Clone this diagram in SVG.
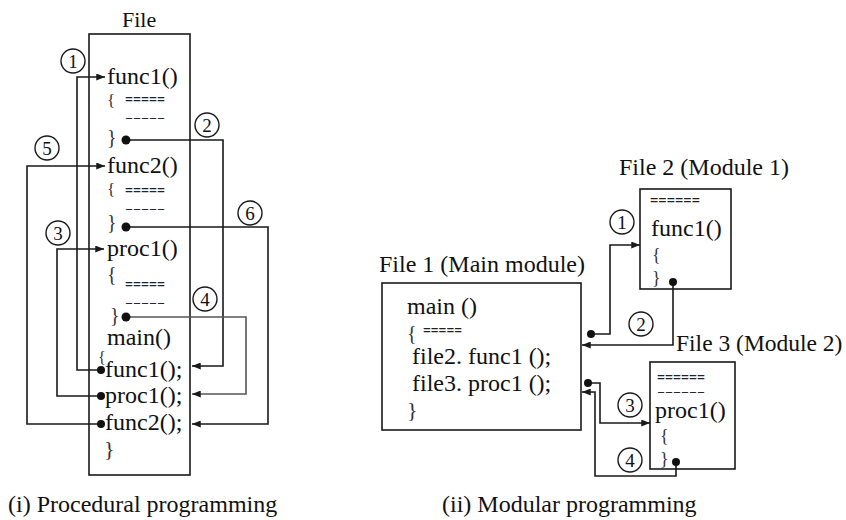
<svg xmlns="http://www.w3.org/2000/svg" width="846" height="520" viewBox="0 0 846 520">
<style>
.t{font-family:"Liberation Serif","Times New Roman",serif;font-size:24px;fill:#111}
.br{font-family:"Liberation Serif","Times New Roman",serif;font-size:20px;fill:#333}
.eq{font-family:"Liberation Serif","Times New Roman",serif;font-size:16px;fill:#222;font-weight:bold}
.dh{font-family:"Liberation Serif","Times New Roman",serif;font-size:11px;fill:#222;font-weight:bold}
.num{font-family:"Liberation Serif","Times New Roman",serif;font-size:19px;fill:#111;text-anchor:middle}
.box{fill:#fff;stroke:#1a1a1a;stroke-width:1.6}
.c{fill:none;stroke:#1a1a1a;stroke-width:1.6}
.ring{fill:none;stroke:#1a1a1a;stroke-width:1.4}
.dot{fill:#111}
</style>
<defs>
<marker id="ah" viewBox="0 0 10 8" refX="10" refY="4" markerWidth="9" markerHeight="7" markerUnits="userSpaceOnUse" orient="auto">
<path d="M0,0 L10,4 L0,8 z" fill="#1a1a1a"/>
</marker>
</defs>
<rect width="846" height="520" fill="#fff"/>

<!-- Left: procedural programming -->
<g id="file-proc">
<text class="t" x="122" y="27" style="font-size:22px">File</text>
<rect class="box" x="89" y="34" width="101" height="441"/>
<text class="t" x="107" y="84">func1()</text>
<text class="br" x="107" y="106" style="font-size:17px">{</text>
<text class="eq" x="125" y="105" textLength="40" lengthAdjust="spacingAndGlyphs">=====</text>
<text class="dh" x="125" y="121" textLength="40" lengthAdjust="spacingAndGlyphs">-----</text>
<text class="br" x="107" y="144">}</text>
<text class="t" x="107" y="173">func2()</text>
<text class="br" x="107" y="195" style="font-size:17px">{</text>
<text class="eq" x="125" y="196" textLength="40" lengthAdjust="spacingAndGlyphs">=====</text>
<text class="dh" x="125" y="212" textLength="40" lengthAdjust="spacingAndGlyphs">-----</text>
<text class="br" x="107" y="229">}</text>
<text class="t" x="107" y="256">proc1()</text>
<text class="br" x="107" y="281">{</text>
<text class="eq" x="125" y="290" textLength="40" lengthAdjust="spacingAndGlyphs">=====</text>
<text class="dh" x="125" y="306" textLength="40" lengthAdjust="spacingAndGlyphs">-----</text>
<text class="br" x="110" y="322">}</text>
<text class="t" x="107" y="345">main()</text>
<text class="br" x="98" y="363" style="font-size:16px">{</text>
<text class="t" x="105" y="377">func1();</text>
<text class="t" x="105" y="403">proc1();</text>
<text class="t" x="105" y="430">func2();</text>
<text class="br" x="104" y="456" style="font-size:22px">}</text>
</g>

<!-- Right: modular programming -->
<g id="file1-main">
<text class="t" x="379" y="272">File 1 (Main module)</text>
<rect class="box" x="382" y="283" width="199" height="147"/>
<text class="t" x="407" y="314">main ()</text>
<text class="br" x="407" y="340">{</text>
<text class="eq" x="423" y="336" textLength="39" lengthAdjust="spacingAndGlyphs">=====</text>
<text class="t" x="412" y="364">file2. func1 ();</text>
<text class="t" x="412" y="391">file3. proc1 ();</text>
<text class="br" x="407" y="417" style="font-size:22px">}</text>
</g>

<g id="file2-module1">
<text class="t" x="619" y="175">File 2 (Module 1)</text>
<rect class="box" x="640" y="189" width="91" height="100"/>
<text class="eq" x="650" y="206" textLength="50" lengthAdjust="spacingAndGlyphs">======</text>
<text class="t" x="651" y="236">func1()</text>
<text class="br" x="652" y="261" style="font-size:18px">{</text>
<text class="br" x="652" y="284" style="font-size:18px">}</text>
</g>

<g id="file3-module2">
<text class="t" x="676" y="351" style="font-size:23.5px">File 3 (Module 2)</text>
<rect class="box" x="650" y="362" width="85" height="107"/>
<text class="eq" x="657" y="383" textLength="48" lengthAdjust="spacingAndGlyphs">======</text>
<text class="dh" x="657" y="395" textLength="48" lengthAdjust="spacingAndGlyphs">------</text>
<text class="t" x="655" y="418">proc1()</text>
<text class="br" x="660" y="442" style="font-size:18px">{</text>
<text class="br" x="660" y="465" style="font-size:18px">}</text>
</g>

<g id="connectors">
<!-- left -->
<polyline class="c" points="101,370 77,370 77,77 105,77" marker-end="url(#ah)"/>
<polyline class="c" points="126,140 223,140 223,366 192,366" marker-end="url(#ah)"/>
<polyline class="c" points="101,396 57,396 57,249 104,249" marker-end="url(#ah)"/>
<polyline class="c" points="126,317 246,317 246,394 192,394" marker-end="url(#ah)" style="stroke:#555"/>
<polyline class="c" points="101,424 27,424 27,166 105,166" marker-end="url(#ah)"/>
<polyline class="c" points="126,227 268,227 268,424 192,424" marker-end="url(#ah)"/>
<circle class="dot" cx="101" cy="370" r="4"/>
<circle class="dot" cx="101" cy="396" r="4"/>
<circle class="dot" cx="101" cy="424" r="4"/>
<circle class="dot" cx="126" cy="140" r="4.5"/>
<circle class="dot" cx="126" cy="227" r="4.5"/>
<circle class="dot" cx="126" cy="317" r="4.5"/>
<!-- right -->
<polyline class="c" points="591,334 610,334 610,245 640,245" marker-end="url(#ah)"/>
<polyline class="c" points="673,282 673,345 582,345" marker-end="url(#ah)"/>
<polyline class="c" points="588,383 600,383 600,423 650,423" marker-end="url(#ah)"/>
<polyline class="c" points="676,462 676,476 595,476 595,392 582,392" marker-end="url(#ah)"/>
<circle class="dot" cx="591" cy="334" r="4"/>
<circle class="dot" cx="673" cy="282" r="4"/>
<circle class="dot" cx="588" cy="383" r="4"/>
<circle class="dot" cx="676" cy="462" r="4"/>
</g>

<g id="step-labels">
<circle class="ring" cx="73" cy="61" r="12"/><text class="num" x="73" y="68">1</text>
<circle class="ring" cx="207" cy="125" r="12"/><text class="num" x="207" y="132">2</text>
<circle class="ring" cx="58" cy="233" r="12"/><text class="num" x="58" y="240">3</text>
<circle class="ring" cx="205" cy="299" r="12"/><text class="num" x="205" y="306">4</text>
<circle class="ring" cx="47" cy="148" r="12"/><text class="num" x="47" y="155">5</text>
<circle class="ring" cx="250" cy="213" r="12"/><text class="num" x="250" y="220">6</text>
<circle class="ring" cx="622" cy="222" r="12"/><text class="num" x="622" y="229">1</text>
<circle class="ring" cx="641" cy="324" r="12"/><text class="num" x="641" y="331">2</text>
<circle class="ring" cx="630" cy="405" r="12"/><text class="num" x="630" y="412">3</text>
<circle class="ring" cx="630" cy="460" r="12"/><text class="num" x="630" y="467">4</text>
</g>

<g id="captions">
<text class="t" x="8" y="512">(i) Procedural programming</text>
<text class="t" x="442" y="512">(ii) Modular programming</text>
</g>
</svg>
